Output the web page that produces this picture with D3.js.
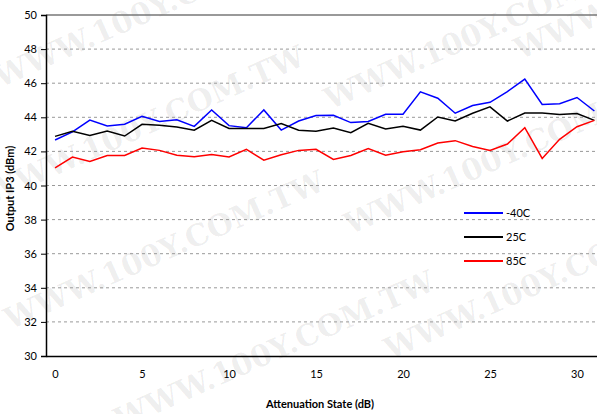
<!DOCTYPE html>
<html>
<head>
<meta charset="utf-8">
<script src="https://cdn.jsdelivr.net/npm/d3@7"></script>
<style>
  body { margin: 0; background: #fff; }
  text { font-family: Lato, "Open Sans", sans-serif; }
  .wm { font-family: "DejaVu Serif", serif; font-weight: bold; }
</style>
</head>
<body>
<div id="chart"></div>
<script>
// attenuation states 0..31
const states = d3.range(0, 32)
const seriesNames = ['-40C', '25C', '85C']
const seriesColors = ['#0000ff', '#000000', '#ff0000']
const ip3Cold = [42.67, 43.14, 43.84, 43.49, 43.59, 44.06, 43.76, 43.86, 43.47, 44.43,
  43.51, 43.39, 44.43, 43.25, 43.78, 44.10, 44.12, 43.69, 43.76, 44.18,
  44.18, 45.49, 45.12, 44.24, 44.69, 44.88, 45.51, 46.24, 44.75, 44.80, 45.16, 44.37]
const ip3Room = [42.88, 43.18, 42.94, 43.20, 42.90, 43.59, 43.53, 43.43, 43.24, 43.82,
  43.35, 43.35, 43.35, 43.63, 43.24, 43.18, 43.37, 43.10, 43.65, 43.31,
  43.47, 43.25, 44.02, 43.78, 44.24, 44.61, 43.78, 44.25, 44.25, 44.16, 44.22, 43.82]
const ip3Hot = [41.04, 41.67, 41.41, 41.76, 41.76, 42.20, 42.06, 41.78, 41.69, 41.82,
  41.67, 42.12, 41.49, 41.80, 42.06, 42.12, 41.53, 41.76, 42.16, 41.78,
  41.98, 42.10, 42.49, 42.63, 42.29, 42.06, 42.43, 43.39, 41.59, 42.71, 43.45, 43.82]
const yTicks = d3.range(30, 51, 2)
const xTicks = [0, 5, 10, 15, 20, 25, 30]

const W = 597, H = 414
const mLeft = 46, mRight = 597, mTop = 15, mBottom = 356

const svg = d3.select('#chart').append('svg')
  .attr('width', W).attr('height', H)

// faint watermark like the scanned datasheet
const wm = svg.append('g').attr('fill', '#000').attr('fill-opacity', 0.07)
const wmSpots = [[0, 88], [-10, 205], [10, 330], [120, 430], [330, 110], [350, 235], [390, 360], [520, 60]]
wmSpots.forEach(p => {
  wm.append('text').attr('class', 'wm')
    .attr('transform', `translate(${p[0]},${p[1]}) rotate(-24)`)
    .attr('font-size', 30)
    .text('WWW.100Y.COM.TW')
})

const x = d3.scaleLinear().domain([-0.52, 31.15]).range([mLeft, mRight])
const y = d3.scaleLinear().domain([30, 50]).range([mBottom, mTop])

// grid
svg.append('g').selectAll('line').data(yTicks.filter(d => d > 30 && d < 50)).join('line')
  .attr('x1', mLeft).attr('x2', mRight)
  .attr('y1', d => y(d)).attr('y2', d => y(d))
  .attr('stroke', '#999').attr('stroke-dasharray', '3,3').attr('stroke-width', 1)

svg.append('line').attr('x1', mLeft).attr('x2', mRight)
  .attr('y1', y(50)).attr('y2', y(50)).attr('stroke', '#777').attr('stroke-width', 1.5)

// y axis
const yAxis = svg.append('g').attr('transform', `translate(${mLeft},0)`)
  .call(d3.axisLeft(y).tickValues(yTicks).tickSize(5).tickPadding(4).tickFormat(d3.format('d')))
yAxis.select('.domain').attr('stroke', '#000').attr('stroke-width', 1.5)
yAxis.selectAll('.tick line').attr('stroke', '#000')
yAxis.selectAll('text').attr('font-size', 11).attr('fill', '#000')

// x axis
const xAxis = svg.append('g').attr('transform', `translate(0,${mBottom})`)
  .call(d3.axisBottom(x).tickValues(xTicks).tickSize(0).tickPadding(14).tickSizeOuter(0))
xAxis.select('.domain').attr('stroke', '#000').attr('stroke-width', 1.5)
xAxis.selectAll('text').attr('font-size', 11).attr('fill', '#000')

svg.append('text').attr('x', 320).attr('y', 408).attr('text-anchor', 'middle')
  .attr('font-size', 11).attr('font-weight', 'bold').text('Attenuation State (dB)')
svg.append('text').attr('transform', `translate(14,${(mTop + mBottom) / 2 + 3}) rotate(-90)`)
  .attr('text-anchor', 'middle').attr('font-size', 11).attr('font-weight', 'bold')
  .text('Output IP3 (dBm)')

// series
const series = [ip3Cold, ip3Room, ip3Hot]
const line = d3.line().x((d, i) => x(states[i])).y(d => y(d))
series.forEach((s, k) => {
  svg.append('path').datum(s)
    .attr('fill', 'none').attr('stroke', seriesColors[k]).attr('stroke-width', 1.5)
    .attr('d', line)
})

// legend
const lg = svg.append('g').attr('transform', 'translate(464,213)')
seriesNames.forEach((n, k) => {
  lg.append('line').attr('x1', 0).attr('x2', 39).attr('y1', k * 24).attr('y2', k * 24)
    .attr('stroke', seriesColors[k]).attr('stroke-width', 2)
  lg.append('text').attr('x', 42).attr('y', k * 24 + 4).attr('font-size', 11).text(n)
})
</script>
</body>
</html>
